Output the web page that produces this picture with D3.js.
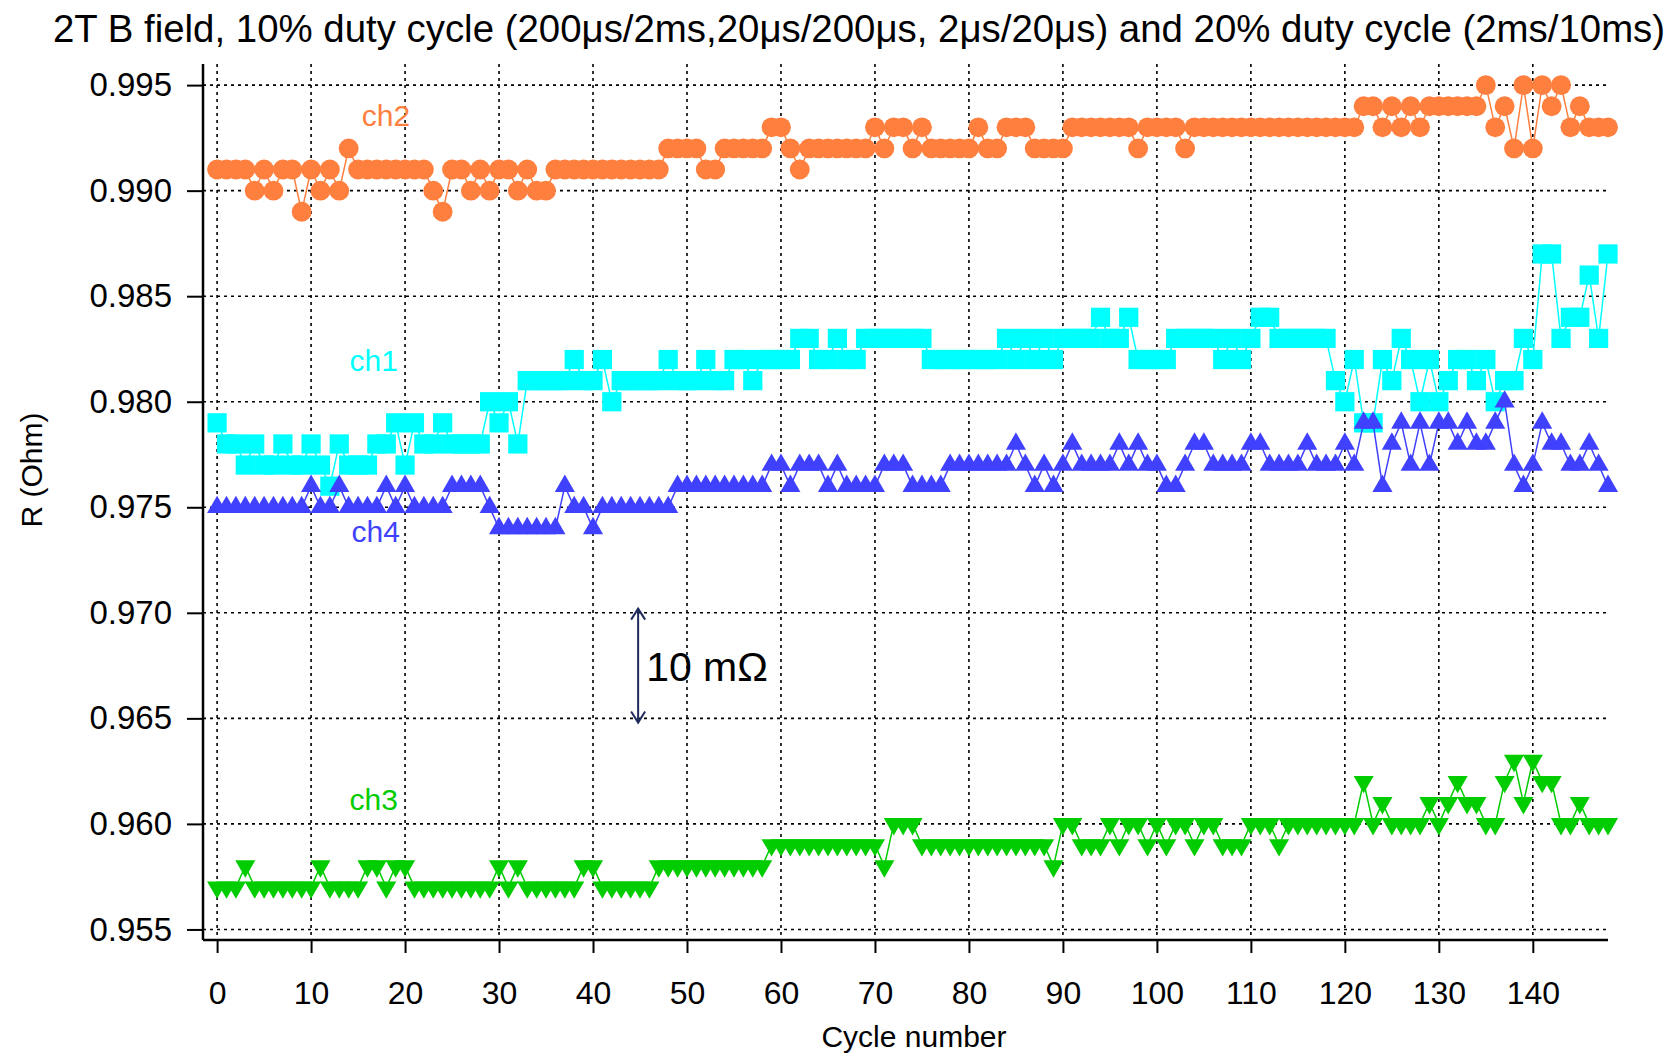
<!DOCTYPE html>
<html><head><meta charset="utf-8">
<script src="https://cdn.jsdelivr.net/npm/d3@7"></script>
<style>body{margin:0;background:#fff}svg{display:block}text{font-family:"Liberation Sans",Arial,sans-serif}</style>
</head><body><svg id="c" width="1672" height="1057"></svg>
<script>
// Resistance (Ohm) per cycle number, cycles 0..148
const ch2 = [
.991,.991,.991,.991,.990,.991,.990,.991,.991,.989,
.991,.990,.991,.990,.992,.991,.991,.991,.991,.991,
.991,.991,.991,.990,.989,.991,.991,.990,.991,.990,
.991,.991,.990,.991,.990,.990,.991,.991,.991,.991,
.991,.991,.991,.991,.991,.991,.991,.991,.992,.992,
.992,.992,.991,.991,.992,.992,.992,.992,.992,.993,
.993,.992,.991,.992,.992,.992,.992,.992,.992,.992,
.993,.992,.993,.993,.992,.993,.992,.992,.992,.992,
.992,.993,.992,.992,.993,.993,.993,.992,.992,.992,
.992,.993,.993,.993,.993,.993,.993,.993,.992,.993,
.993,.993,.993,.992,.993,.993,.993,.993,.993,.993,
.993,.993,.993,.993,.993,.993,.993,.993,.993,.993,
.993,.993,.994,.994,.993,.994,.993,.994,.993,.994,
.994,.994,.994,.994,.994,.995,.993,.994,.992,.995,
.992,.995,.994,.995,.993,.994,.993,.993,.993];
const ch1 = [
.979,.978,.978,.977,.978,.977,.977,.978,.977,.977,
.978,.977,.976,.978,.977,.977,.977,.978,.978,.979,
.977,.979,.978,.978,.979,.978,.978,.978,.978,.980,
.979,.980,.978,.981,.981,.981,.981,.981,.982,.981,
.981,.982,.980,.981,.981,.981,.981,.981,.982,.981,
.981,.981,.982,.981,.981,.982,.982,.981,.982,.982,
.982,.982,.983,.983,.982,.982,.983,.982,.982,.983,
.983,.983,.983,.983,.983,.983,.982,.982,.982,.982,
.982,.982,.982,.982,.983,.982,.983,.982,.983,.982,
.983,.983,.983,.983,.984,.983,.983,.984,.982,.982,
.982,.982,.983,.983,.983,.983,.983,.982,.983,.982,
.983,.984,.984,.983,.983,.983,.983,.983,.983,.981,
.980,.982,.979,.979,.982,.981,.983,.982,.980,.982,
.980,.981,.982,.982,.981,.982,.980,.981,.981,.983,
.982,.987,.987,.983,.984,.984,.986,.983,.987];
const ch4 = [
.975,.975,.975,.975,.975,.975,.975,.975,.975,.975,
.976,.975,.975,.976,.975,.975,.975,.975,.976,.975,
.976,.975,.975,.975,.975,.976,.976,.976,.976,.975,
.974,.974,.974,.974,.974,.974,.974,.976,.975,.975,
.974,.975,.975,.975,.975,.975,.975,.975,.975,.976,
.976,.976,.976,.976,.976,.976,.976,.976,.976,.977,
.977,.976,.977,.977,.977,.976,.977,.976,.976,.976,
.976,.977,.977,.977,.976,.976,.976,.976,.977,.977,
.977,.977,.977,.977,.977,.978,.977,.976,.977,.976,
.977,.978,.977,.977,.977,.977,.978,.977,.978,.977,
.977,.976,.976,.977,.978,.978,.977,.977,.977,.977,
.978,.978,.977,.977,.977,.977,.978,.977,.977,.977,
.978,.977,.979,.979,.976,.978,.979,.977,.979,.977,
.979,.979,.978,.979,.978,.978,.979,.980,.977,.976,
.977,.979,.978,.978,.977,.977,.978,.977,.976];
const ch3 = [
.957,.957,.957,.958,.957,.957,.957,.957,.957,.957,
.957,.958,.957,.957,.957,.957,.958,.958,.957,.958,
.958,.957,.957,.957,.957,.957,.957,.957,.957,.957,
.958,.957,.958,.957,.957,.957,.957,.957,.957,.958,
.958,.957,.957,.957,.957,.957,.957,.958,.958,.958,
.958,.958,.958,.958,.958,.958,.958,.958,.958,.959,
.959,.959,.959,.959,.959,.959,.959,.959,.959,.959,
.959,.958,.960,.960,.960,.959,.959,.959,.959,.959,
.959,.959,.959,.959,.959,.959,.959,.959,.959,.958,
.960,.960,.959,.959,.959,.960,.959,.960,.960,.959,
.960,.959,.960,.960,.959,.960,.960,.959,.959,.959,
.960,.960,.960,.959,.960,.960,.960,.960,.960,.960,
.960,.960,.962,.960,.961,.960,.960,.960,.960,.961,
.960,.961,.962,.961,.961,.960,.960,.962,.963,.961,
.963,.962,.962,.960,.960,.961,.960,.960,.960];

const yTicks = [0.955,0.960,0.965,0.970,0.975,0.980,0.985,0.990,0.995];
const xTicks = [0,10,20,30,40,50,60,70,80,90,100,110,120,130,140];
const seriesNames = ["ch2","ch1","ch4","ch3"];
const seriesColors = ["#ff7f3f","#00ffff","#4040ff","#00cc00"];
const seriesMarkers = ["circle","square","triangleUp","triangleDown"];
const labelPos = [[15.4,0.99306],[14.1,0.98145],[14.3,0.97337],[14.1,0.96064]];

const svg = d3.select("#c");
const x = d3.scaleLinear().domain([-1.5,148]).range([203,1608]);
const y = d3.scaleLinear().domain([0.9545,0.996]).range([940,64]);

// title
svg.append("text").attr("x",53).attr("y",42).attr("font-size",38.4).attr("fill","#000")
  .text("2T B field, 10% duty cycle (200μs/2ms,20μs/200μs, 2μs/20μs) and 20% duty cycle (2ms/10ms)");

// grid
const grid = svg.append("g").attr("stroke","#000").attr("stroke-width",1.6).attr("stroke-dasharray","3,4");
grid.selectAll("line.h").data(yTicks).join("line").attr("class","h")
  .attr("x1",x.range()[0]).attr("x2",x.range()[1]).attr("y1",d=>y(d)).attr("y2",d=>y(d));
grid.selectAll("line.v").data(xTicks).join("line").attr("class","v")
  .attr("x1",d=>x(d)).attr("x2",d=>x(d)).attr("y1",y.range()[1]).attr("y2",y.range()[0]);

// series
const sets = [ch2,ch1,ch4,ch3];
const line = d3.line().x((d,i)=>x(i)).y(d=>y(d));
const sym = {
  circle: d3.symbol(d3.symbolCircle,310),
  square: d3.symbol(d3.symbolSquare,370),
  triangleUp: d3.symbol(d3.symbolTriangle,175),
  triangleDown: d3.symbol(d3.symbolTriangle,175)
};
sets.forEach((vals,k)=>{
  const g = svg.append("g");
  g.append("path").attr("d",line(vals)).attr("fill","none").attr("stroke",seriesColors[k]).attr("stroke-width",1.5);
  const m = seriesMarkers[k];
  g.selectAll("path.m").data(vals).join("path").attr("class","m")
    .attr("d",sym[m]())
    .attr("transform",(d,i)=>`translate(${x(i)},${y(d)})`+(m==="triangleDown"?" rotate(180)":""))
    .attr("fill",seriesColors[k]);
  svg.append("text").attr("x",x(labelPos[k][0])).attr("y",y(labelPos[k][1]))
    .attr("font-size",30).attr("fill",seriesColors[k]).text(seriesNames[k]);
});

// axes
const ya = svg.append("g").attr("transform",`translate(${x.range()[0]},0)`)
  .call(d3.axisLeft(y).tickValues(yTicks).tickFormat(d3.format(".3f")).tickSize(16).tickPadding(15));
ya.select(".domain").attr("stroke-width",2.5).attr("d",`M0,${y.range()[1]}V${y.range()[0]}`);
ya.selectAll(".tick line").attr("stroke-width",2);
ya.selectAll("text").attr("font-size",33).attr("font-family","Liberation Sans, Arial, sans-serif").attr("fill","#000");

const xa = svg.append("g").attr("transform",`translate(0,${y.range()[0]})`)
  .call(d3.axisBottom(x).tickValues(xTicks).tickFormat(d3.format("d")).tickSize(13).tickPadding(28));
xa.select(".domain").attr("stroke-width",2.5).attr("d",`M${x.range()[0]},0H${x.range()[1]}`);
xa.selectAll(".tick line").attr("stroke-width",2);
xa.selectAll("text").attr("font-size",32).attr("font-family","Liberation Sans, Arial, sans-serif").attr("fill","#000");

svg.append("text").attr("x",914).attr("y",1047).attr("text-anchor","middle")
  .attr("font-size",30).text("Cycle number");
svg.append("text").attr("transform","translate(42,470) rotate(-90)").attr("text-anchor","middle")
  .attr("font-size",30).text("R (Ohm)");

// annotation arrow
const ax = x(44.8), ay1 = y(0.9702), ay2 = y(0.9648);
const navy = "#1f2a5c";
svg.append("line").attr("x1",ax).attr("x2",ax).attr("y1",ay1).attr("y2",ay2).attr("stroke",navy).attr("stroke-width",2);
svg.append("path").attr("d",`M${ax-7},${ay1+11}L${ax},${ay1}L${ax+7},${ay1+11}M${ax-7},${ay2-11}L${ax},${ay2}L${ax+7},${ay2-11}`)
  .attr("fill","none").attr("stroke",navy).attr("stroke-width",2);
svg.append("text").attr("x",ax+8).attr("y",(ay1+ay2)/2+15).attr("font-size",41).attr("fill","#000").text("10 mΩ");
</script></body></html>
